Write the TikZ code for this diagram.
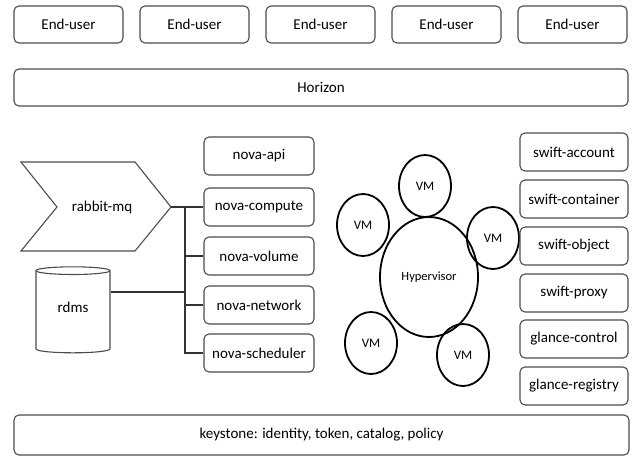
\documentclass[tikz,border=0pt]{standalone}
\usepackage{fontspec}
\setmainfont{Carlito}
\usetikzlibrary{shapes.geometric}

\begin{document}
\begin{tikzpicture}[x=1pt,y=-1pt,
    box/.style={draw=black!70, line width=1.1pt, rounded corners=5pt, inner sep=0pt,
      minimum height=38pt, font=\fontsize{15}{17}\selectfont},
    vm/.style={ellipse, draw, line width=1.8pt, inner sep=0pt, minimum width=52pt,
      minimum height=62pt, font=\fontsize{13}{15}\selectfont},
    wire/.style={draw=black!80, line width=1.1pt}]
\useasboundingbox (0,0) rectangle (632,456);
% top row
\foreach \i in {1,...,5}
  \node[box, minimum width=109pt, minimum height=37pt] (user\i) at ({68.5+126*(\i-1)},24.5) {End-user};
\node[box, minimum width=614pt, minimum height=37pt] (horizon) at (321,87.5) {Horizon};
% queue and database
\draw[wire, draw=black!70] (21,162) -- (135,162) -- (171,207) coordinate (mqtip)
  -- (135,251) -- (21,251) -- (57,207) -- cycle;
\node[font=\fontsize{15}{17}\selectfont] (mq) at (102,207) {rabbit-mq};
\node[cylinder, shape border rotate=90, draw=black!70, line width=1.1pt, aspect=0.25,
  minimum width=74pt, minimum height=86pt, inner sep=0pt,
  font=\fontsize{15}{17}\selectfont] (rdms) at (73,312) {\raisebox{9pt}{rdms}};
% nova services
\foreach \name/\y in {api/156, compute/207, volume/256, network/305, scheduler/353}
  \node[box, minimum width=110pt] (nova\name) at (259,\y) {nova-\name};
\coordinate (bus) at (185,207);
\draw[wire] (mqtip) -- (novacompute.west);
\draw[wire] (bus) |- (novascheduler.west);
\foreach \name in {volume,network}
  \draw[wire] (bus |- nova\name.west) -- (nova\name.west);
\coordinate (dbport) at ([yshift=20pt]rdms.east);
\draw[wire] (dbport) -- (dbport -| bus);
% hypervisor with its vms
\node[vm, minimum width=98pt, minimum height=120pt, font=\fontsize{12.5}{14}\selectfont] (hyp) at (429,277) {Hypervisor};
\foreach \x/\y [count=\k] in {425/186, 363/225, 493/238, 371/343, 463/355}
  \node[vm] (vm\k) at (\x,\y) {VM};
% storage and images
\foreach \lbl/\y [count=\k] in {swift-account/152, swift-container/199, swift-object/246,
    swift-proxy/293, glance-control/339, glance-registry/386}
  \node[box, minimum width=108pt] (store\k) at (574,\y) {\lbl};
\node[box, minimum width=615pt, minimum height=40pt] (keystone) at (321.5,435) {keystone: identity, token, catalog, policy};
\end{tikzpicture}
\end{document}
